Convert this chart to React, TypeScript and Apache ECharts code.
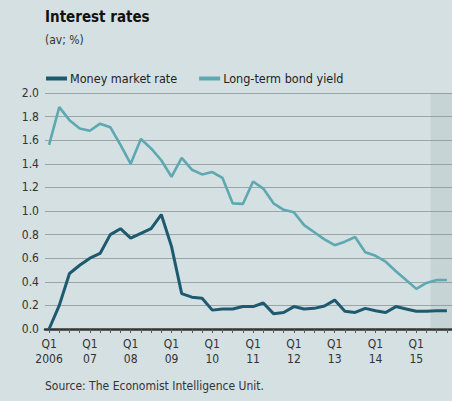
import React, { useEffect, useRef } from "react";
import * as echarts from "echarts";

const years = ["2006", "07", "08", "09", "10", "11", "12", "13", "14", "15"];
const moneyMarket = [
  0.0, 0.2, 0.47, 0.54, 0.6, 0.64, 0.8, 0.85, 0.77, 0.81, 0.85, 0.97, 0.7, 0.3,
  0.27, 0.26, 0.16, 0.17, 0.17, 0.19, 0.19, 0.22, 0.13, 0.14, 0.19, 0.17, 0.175,
  0.195, 0.245, 0.15, 0.14, 0.175, 0.155, 0.14, 0.19, 0.17, 0.15, 0.15, 0.155,
  0.155,
];
const bondYield = [
  1.56, 1.88, 1.77, 1.7, 1.68, 1.74, 1.71, 1.56, 1.4, 1.61, 1.53, 1.43, 1.29,
  1.45, 1.35, 1.31, 1.33, 1.28, 1.065, 1.06, 1.25, 1.19, 1.065, 1.01, 0.99, 0.88,
  0.82, 0.76, 0.71, 0.74, 0.78, 0.65, 0.62, 0.57, 0.49, 0.415, 0.34, 0.39, 0.415,
  0.415,
];
const forecastStart = 37.4;

const FONT = "'DejaVu Sans Condensed', 'Liberation Sans Narrow', 'Roboto', sans-serif";

export default function App() {
  const ref = useRef<HTMLDivElement>(null);
  useEffect(() => {
    document.body.style.margin = "0";
    const chart = echarts.init(ref.current!, null, { renderer: "svg" });
    const idx = moneyMarket.map((_, i) => i);
    const labelVals = years.map((_, i) => i * 4);
    chart.setOption({
      animation: false,
      backgroundColor: "#d4e0e2",
      textStyle: { fontFamily: FONT },
      title: {
        text: "Interest rates",
        subtext: "(av; %)",
        left: 40,
        top: 4,
        itemGap: 10,
        textStyle: { fontFamily: FONT, fontSize: 15, fontWeight: "bold", color: "#111" },
        subtextStyle: { fontFamily: FONT, fontSize: 12, color: "#333" },
      },
      legend: {
        left: 41,
        top: 67,
        itemWidth: 21,
        itemHeight: 4,
        itemGap: 22,
        icon: "rect",
        textStyle: { fontFamily: FONT, fontSize: 12.5, color: "#222", padding: [0, 0, 0, -2] },
        data: ["Money market rate", "Long-term bond yield"],
      },
      grid: { left: 45, right: 0, top: 93, bottom: 72 },
      xAxis: {
        type: "value",
        min: -0.4,
        max: 39.5,
        axisLine: { show: true, lineStyle: { color: "#333", width: 2.5 } },
        axisTick: {
          show: true,
          length: 4,
          customValues: idx,
          lineStyle: { color: "#555", width: 1 },
        },
        axisLabel: {
          customValues: labelVals,
          margin: 7,
          fontSize: 12,
          lineHeight: 15,
          color: "#333",
          fontFamily: FONT,
          formatter: (v: number) => {
            const k = Math.round(v / 4);
            return "Q1\n" + (years[k] ?? "");
          },
        },
        splitLine: { show: false },
      },
      yAxis: {
        type: "value",
        min: 0,
        max: 2,
        interval: 0.2,
        axisLine: { show: false },
        axisTick: { show: false },
        axisLabel: {
          fontSize: 12,
          color: "#333",
          margin: 6,
          fontFamily: FONT,
          formatter: (v: number) => v.toFixed(1),
        },
        splitLine: { lineStyle: { color: "#9aa5a7", width: 1.2 } },
      },
      series: [
        {
          name: "Money market rate",
          type: "line",
          data: moneyMarket.map((v, i) => [i, v]),
          showSymbol: false,
          color: "#1e5a6f",
          lineStyle: { width: 3, color: "#1e5a6f" },
          z: 3,
          markArea: {
            silent: true,
            itemStyle: { color: "rgba(120,150,150,0.15)" },
            data: [[{ xAxis: forecastStart }, { xAxis: 39.5 }]],
          },
        },
        {
          name: "Long-term bond yield",
          type: "line",
          data: bondYield.map((v, i) => [i, v]),
          showSymbol: false,
          color: "#5ea8b2",
          lineStyle: { width: 2.6, color: "#5ea8b2" },
          z: 2,
        },
      ],
      graphic: [
        {
          type: "text",
          left: 45,
          top: 380,
          style: {
            text: "Source: The Economist Intelligence Unit.",
            fontSize: 12,
            fill: "#333",
            fontFamily: FONT,
          },
        },
      ],
    });
    return () => chart.dispose();
  }, []);
  return <div ref={ref} style={{ width: 452, height: 401 }} />;
}
